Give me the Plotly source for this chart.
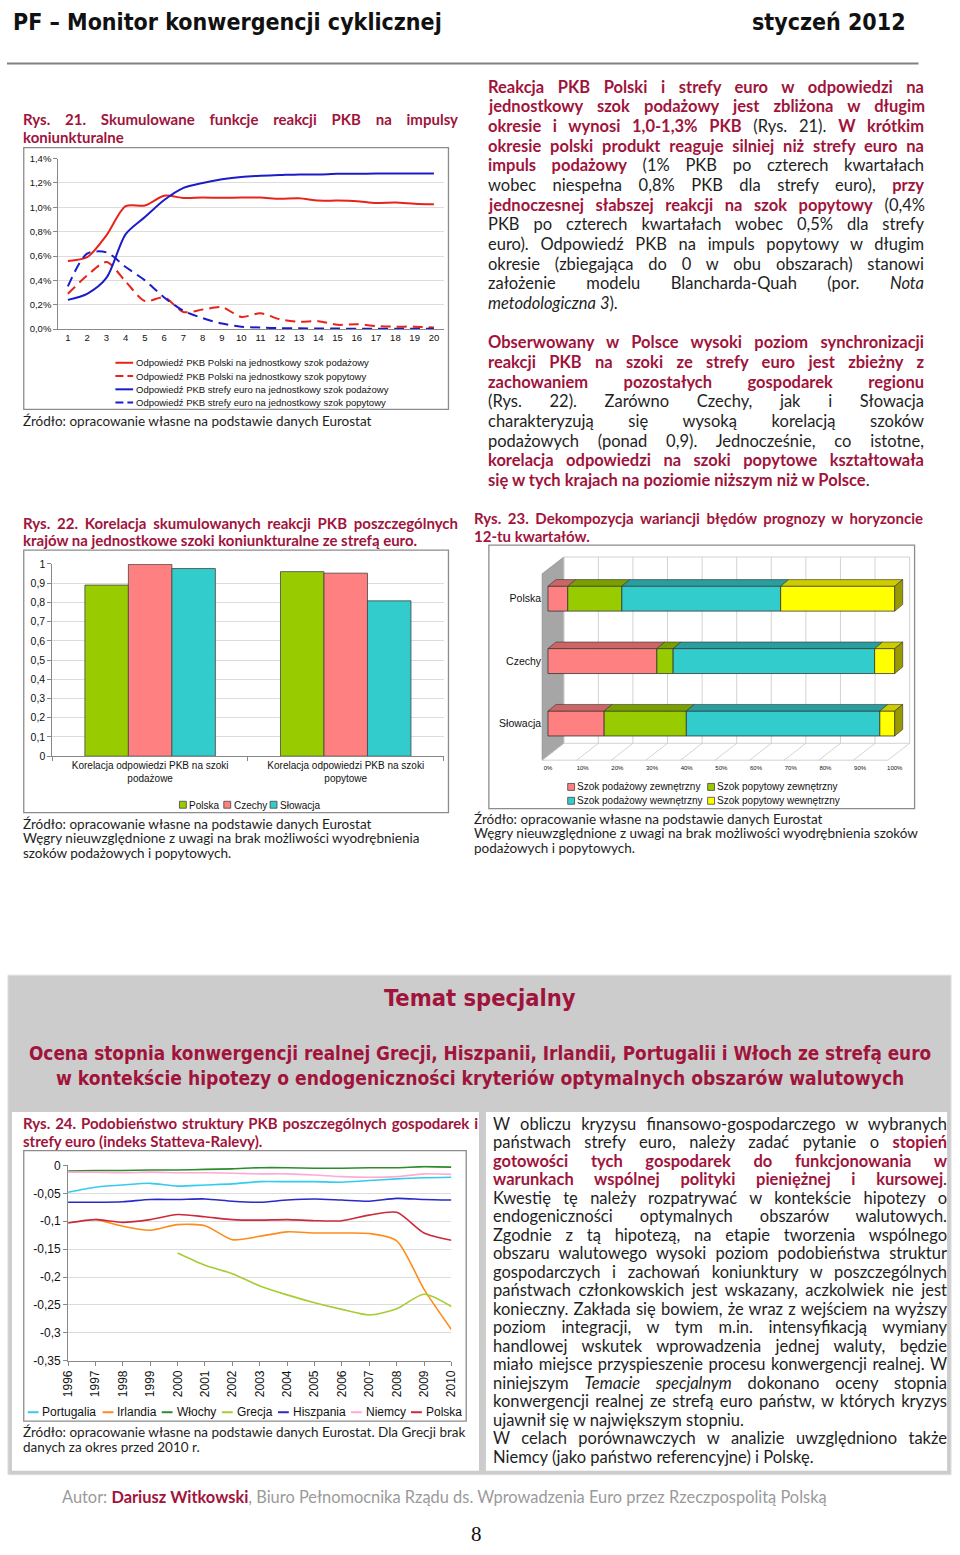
import json
import plotly.graph_objects as go

W, H = 960, 1555


def px(x):
    return x / W


def py(y):
    return 1 - y / H


RED = "#a0143c"
DARK = "#1e1e1e"
BODY = "Lato, DejaVu Sans, sans-serif"
CHART = "Liberation Sans, Arial, sans-serif"
HEAD = "Liberation Sans Narrow, DejaVu Sans Condensed, sans-serif"

# ---------------- DATA ----------------
# Rys. 21 - cumulative impulse responses (% of GDP)
quarters = list(range(1, 21))
pl_supply = [0.56, 0.59, 0.77, 1.01, 1.015, 1.095, 1.077, 1.08, 1.078, 1.08,
             1.08, 1.07, 1.075, 1.055, 1.055, 1.05, 1.035, 1.04, 1.03, 1.025]
pl_demand = [0.29, 0.44, 0.55, 0.39, 0.23, 0.26, 0.14, 0.16, 0.18, 0.10,
             0.13, 0.08, 0.06, 0.065, 0.035, 0.04, 0.025, 0.02, 0.02, 0.012]
ez_supply = [0.24, 0.29, 0.42, 0.78, 0.92, 1.06, 1.16, 1.20, 1.23, 1.25,
             1.26, 1.265, 1.27, 1.27, 1.275, 1.275, 1.278, 1.278, 1.278, 1.278]
ez_demand = [0.35, 0.62, 0.63, 0.51, 0.40, 0.26, 0.15, 0.09, 0.045, 0.02,
             0.012, 0.008, 0.006, 0.005, 0.004, 0.003, 0.003, 0.002, 0.002, 0.002]
names21 = ["Odpowiedź PKB Polski na jednostkowy szok podażowy",
           "Odpowiedź PKB Polski na jednostkowy szok popytowy",
           "Odpowiedź PKB strefy euro na jednostkowy szok podażowy",
           "Odpowiedź PKB strefy euro na jednostkowy szok popytowy"]

# Rys. 22 - correlations
groups22 = ["Korelacja odpowiedzi PKB na szoki<br>podażowe",
            "Korelacja odpowiedzi PKB na szoki<br>popytowe"]
countries22 = ["Polska", "Czechy", "Słowacja"]
polska22 = [0.89, 0.96]
czechy22 = [0.998, 0.952]
slowacja22 = [0.976, 0.808]

# Rys. 23 - variance decomposition (%)
countries23 = ["Polska", "Czechy", "Słowacja"]
names23 = ["Szok podażowy zewnętrzny", "Szok popytowy zewnętrzny",
           "Szok podażowy wewnętrzny", "Szok popytowy wewnętrzny"]
supply_ext = [5.7, 31.4, 16.2]
demand_ext = [15.6, 4.7, 23.7]
supply_int = [45.8, 58.1, 55.8]
demand_int = [32.9, 5.8, 4.3]
ticks23 = [0, 10, 20, 30, 40, 50, 60, 70, 80, 90, 100]
ticklabels23 = ["0%", "10%", "20%", "30%", "40%", "50%", "60%", "70%", "80%", "90%", "100%"]

# Rys. 24 - Statteva-Raleva index
years = list(range(1996, 2011))
portugalia = [-0.048, -0.039, -0.035, -0.032, -0.037, -0.035, -0.033, -0.029,
              -0.029, -0.029, -0.030, -0.027, -0.024, -0.022, -0.021]
irlandia = [None, -0.096, -0.109, -0.116, -0.106, -0.108, -0.133, -0.127,
            -0.119, -0.121, -0.121, -0.122, -0.135, -0.222, -0.294]
wlochy = [-0.010, -0.009, -0.009, -0.008, -0.008, -0.007, -0.006, -0.004,
          -0.004, -0.005, -0.005, -0.004, -0.004, -0.002, -0.003]
grecja = [None, None, None, None, -0.157, -0.179, -0.194, -0.216,
          -0.232, -0.246, -0.258, -0.268, -0.257, -0.231, -0.253]
hiszpania = [-0.066, -0.066, -0.065, -0.061, -0.061, -0.060, -0.064, -0.066,
             -0.062, -0.060, -0.062, -0.064, -0.059, -0.061, -0.062]
niemcy = [-0.012, -0.012, -0.013, -0.012, -0.013, -0.013, -0.014, -0.015,
          -0.015, -0.017, -0.020, -0.021, -0.020, -0.015, -0.016]
polska24 = [-0.103, -0.097, -0.102, -0.097, -0.088, -0.092, -0.097, -0.098,
            -0.097, -0.099, -0.099, -0.089, -0.084, -0.121, -0.134]
names24 = ["Portugalia", "Irlandia", "Włochy", "Grecja", "Hiszpania", "Niemcy", "Polska"]
yticks24 = [0, -0.05, -0.1, -0.15, -0.2, -0.25, -0.3, -0.35]
yticklabels24 = ["0", "-0,05", "-0,1", "-0,15", "-0,2", "-0,25", "-0,3", "-0,35"]

# ---------------- FIGURE ----------------
fig = go.Figure()
shapes = []
annotations = []
justify = []  # (annotation index, target width in px)


def txt(x, y, s, size, color=DARK, family=BODY, xanchor="left", yanchor="middle", jw=None):
    annotations.append(dict(
        x=px(x), y=py(y), xref="paper", yref="paper", text=s, showarrow=False,
        xanchor=xanchor, yanchor=yanchor, align="left" if xanchor == "left" else xanchor,
        font=dict(size=size, color=color, family=family), borderpad=0))
    if jw:
        justify.append([len(annotations) - 1, jw])


def rect(x0, y0, x1, y1, fill=None, line=None, lw=1, layer="below"):
    shapes.append(dict(type="rect", xref="paper", yref="paper",
                       x0=px(x0), x1=px(x1), y0=py(y1), y1=py(y0),
                       fillcolor=fill if fill else "rgba(0,0,0,0)",
                       line=dict(color=line if line else "rgba(0,0,0,0)", width=lw if line else 0),
                       layer=layer))


def hline(x0, y0, x1, y1, color, width=1, dash="solid", layer="above"):
    shapes.append(dict(type="line", xref="paper", yref="paper",
                       x0=px(x0), x1=px(x1), y0=py(y0), y1=py(y1),
                       line=dict(color=color, width=width, dash=dash), layer=layer))


def R(s):
    return f"<b><span style='color:{RED}'>{s}</span></b>"


# background blocks
hline(0, 57, 925, 57, "#808080", 2)
rect(1, 977, 958, 1481, fill="#cccccc", line="#dddddd", lw=1)
rect(5, 1115, 479, 1477, fill="white")
rect(486, 1115, 954, 1477, fill="white")
for box in [(17, 142, 448, 406), (17, 548, 448, 813), (489, 543, 921, 809), (17, 1154, 466, 1427)]:
    rect(*box, line="#8c8c8c", lw=1.3)

# ---- Rys. 21 ----
styles21 = [("#e8231a", "solid", pl_supply), ("#e8231a", "dash", pl_demand),
            ("#1c1cc8", "solid", ez_supply), ("#1c1cc8", "dash", ez_demand)]
for name, (col, dash, vals) in zip(names21, styles21):
    fig.add_trace(go.Scatter(x=quarters, y=vals, mode="lines", name=name,
                             line=dict(color=col, width=2, dash="10px,6px" if dash == "dash" else "solid",
                                       shape="spline", smoothing=0.8),
                             xaxis="x", yaxis="y", showlegend=False))
for i, (name, (col, dash, _)) in enumerate(zip(names21, styles21)):
    yy = 359 + 13.4 * i
    hline(110, yy, 128, yy, col, 2, "solid" if dash == "solid" else "8px,4px")
    txt(130, yy, name, 9.5, "#111", CHART)

# ---- Rys. 22 ----
colors22 = ["#99cc00", "#ff8080", "#33cccc"]
for name, vals, col in zip(countries22, [polska22, czechy22, slowacja22], colors22):
    fig.add_trace(go.Bar(x=groups22, y=vals, name=name, marker=dict(color=col, line=dict(color="#444", width=0.8)),
                         xaxis="x2", yaxis="y2", showlegend=False))
leg22_x = [175, 220, 267]
for name, col, lx in zip(countries22, colors22, leg22_x):
    rect(lx, 801.5, lx + 7, 808.5, fill=col, line="#444", lw=0.8, layer="above")
    txt(lx + 9, 805.5, name, 10, "#111", CHART)

# ---- Rys. 23 (pseudo 3D stacked bars) ----
colors23 = ["#ff8080", "#99cc00", "#33cccc", "#ffff00"]
tops23 = ["#cc6666", "#7a9f00", "#2a9e9e", "#cccc00"]
DX, DY, HW = 2.3, 0.105, 0.2
ypos23 = [len(countries23) - 1 - i for i in range(len(countries23))]

shapes.append(dict(type="path", xref="paper", yref="paper",
                   path=f"M {px(543)},{py(760)} L {px(543)},{py(572)} L {px(565)},{py(555)} L {px(565)},{py(743)} Z",
                   fillcolor="#a6a6a6", line=dict(color="#888", width=0.6), layer="below"))
for k in range(11):
    xb = 565 + 35.1 * k
    hline(xb, 555, xb, 743, "#c8c8c8", 0.8, layer="below")
    hline(xb, 743, xb - 22, 760, "#c8c8c8", 0.8, layer="below")
hline(565, 555, 916, 555, "#c8c8c8", 0.8, layer="below")
hline(565, 743, 916, 743, "#c8c8c8", 0.8, layer="below")
hline(543, 760, 894, 760, "#c8c8c8", 0.8, layer="below")

cum = [0.0] * len(countries23)
for name, vals, col, top in zip(names23, [supply_ext, demand_ext, supply_int, demand_int], colors23, tops23):
    fig.add_trace(go.Bar(x=vals, y=ypos23, base=list(cum), orientation="h", width=2 * HW, offset=-HW,
                         offsetgroup="s23", name=name,
                         marker=dict(color=col, line=dict(color="#333", width=0.8)),
                         xaxis="x3", yaxis="y3", showlegend=False))
    xs, ys = [], []
    for yv, b, v in zip(ypos23, cum, vals):
        xs += [b, b + v, b + v + DX, b + DX, b, None]
        ys += [yv + HW, yv + HW, yv + HW + DY, yv + HW + DY, yv + HW, None]
    fig.add_trace(go.Scatter(x=xs, y=ys, mode="lines", fill="toself", fillcolor=top,
                             line=dict(color="#333", width=0.6), xaxis="x3", yaxis="y3",
                             showlegend=False, hoverinfo="skip"))
    cum = [c + v for c, v in zip(cum, vals)]
xs, ys = [], []
for yv, c in zip(ypos23, cum):
    xs += [c, c + DX, c + DX, c, c, None]
    ys += [yv - HW, yv - HW + DY, yv + HW + DY, yv + HW, yv - HW, None]
fig.add_trace(go.Scatter(x=xs, y=ys, mode="lines", fill="toself", fillcolor="#999900",
                         line=dict(color="#333", width=0.6), xaxis="x3", yaxis="y3",
                         showlegend=False, hoverinfo="skip"))
leg23 = [(569, 787), (711, 787), (569, 801), (711, 801)]
for idx, (lx, ly) in enumerate(leg23):
    rect(lx, ly - 3.5, lx + 7, ly + 3.5, fill=colors23[idx], line="#444", lw=0.8, layer="above")
    txt(lx + 8, ly, names23[idx], 10, "#111", CHART)

# ---- Rys. 24 ----
colors24 = ["#33ccee", "#ff8c1a", "#2e8b2e", "#a6cc33", "#2a2ac8", "#ffaad4", "#cc2a3a"]
for name, vals, col in zip(names24, [portugalia, irlandia, wlochy, grecja, hiszpania, niemcy, polska24], colors24):
    fig.add_trace(go.Scatter(x=years, y=vals, mode="lines", name=name,
                             line=dict(color=col, width=1.6, shape="spline", smoothing=0.7),
                             xaxis="x4", yaxis="y4", showlegend=False))
leg24_x = [21, 97, 157, 218, 275, 349, 410]
for name, col, lx in zip(names24, colors24, leg24_x):
    hline(lx, 1418, lx + 11, 1418, col, 2)
    txt(lx + 14, 1418, name, 12, "#111", CHART)

# ---------------- TEXT ----------------
txt(5, 15, "<b>PF – Monitor konwergencji cyklicznej</b>", 23, "#111", HEAD)
txt(913, 15, "<b>styczeń 2012</b>", 23, "#111", HEAD, xanchor="right")

TS = 15
SS = 13.5
txt(15, 113, R("Rys. 21. Skumulowane funkcje reakcji PKB na impulsy"), TS, jw=435)
txt(15, 131, R("koniunkturalne"), TS)
txt(15, 418, "Źródło: opracowanie własne na podstawie danych Eurostat", SS)

txt(15, 521, R("Rys. 22. Korelacja skumulowanych reakcji PKB poszczególnych"), TS, jw=435)
txt(15, 538, R("krajów na jednostkowe szoki koniunkturalne ze strefą euro."), TS)
for i, s in enumerate(["Źródło: opracowanie własne na podstawie danych Eurostat",
                       "Węgry nieuwzględnione z uwagi na brak możliwości wyodrębnienia",
                       "szoków podażowych i popytowych."]):
    txt(15, 824 + 15 * i, s, SS)

txt(473, 516, R("Rys. 23. Dekompozycja wariancji błędów prognozy w horyzoncie"), TS, jw=449)
txt(473, 534, R("12-tu kwartałów."), TS)
for i, s in enumerate(["Źródło: opracowanie własne na podstawie danych Eurostat",
                       "Węgry nieuwzględnione z uwagi na brak możliwości wyodrębnienia szoków",
                       "podażowych i popytowych."]):
    txt(473, 819 + 15 * i, s, SS)

txt(15, 1126.5, R("Rys. 24. Podobieństwo struktury PKB poszczególnych gospodarek i"), TS, jw=455)
txt(15, 1144, R("strefy euro (indeks Statteva-Ralevy)."), TS)
txt(15, 1438, "Źródło: opracowanie własne na podstawie danych Eurostat. Dla Grecji brak", SS)
txt(15, 1453, "danych za okres przed 2010 r.", SS)

BS = 16.5
P1 = [
    R("Reakcja PKB Polski i strefy euro w odpowiedzi na"),
    R("jednostkowy szok podażowy jest zbliżona w długim"),
    R("okresie i wynosi 1,0-1,3% PKB") + " (Rys. 21). " + R("W krótkim"),
    R("okresie polski produkt reaguje silniej niż strefy euro na"),
    R("impuls podażowy") + " (1% PKB po czterech kwartałach",
    "wobec niespełna 0,8% PKB dla strefy euro), " + R("przy"),
    R("jednoczesnej słabszej reakcji na szok popytowy") + " (0,4%",
    "PKB po czterech kwartałach wobec 0,5% dla strefy",
    "euro). Odpowiedź PKB na impuls popytowy w długim",
    "okresie (zbiegająca do 0 w obu obszarach) stanowi",
    "założenie modelu Blancharda-Quah (por. <i>Nota</i>",
    "<i>metodologiczna 3</i>).",
]
P2 = [
    R("Obserwowany w Polsce wysoki poziom synchronizacji"),
    R("reakcji PKB na szoki ze strefy euro jest zbieżny z"),
    R("zachowaniem pozostałych gospodarek regionu"),
    "(Rys. 22). Zarówno Czechy, jak i Słowacja",
    "charakteryzują się wysoką korelacją szoków",
    "podażowych (ponad 0,9). Jednocześnie, co istotne,",
    R("korelacja odpowiedzi na szoki popytowe kształtowała"),
    R("się w tych krajach na poziomie niższym niż w Polsce") + ".",
]
for i, s in enumerate(P1):
    txt(487, 80.5 + 19.85 * i, s, BS, jw=436 if i < len(P1) - 1 else None)
for i, s in enumerate(P2):
    txt(487, 338.3 + 19.85 * i, s, BS, jw=436 if i < len(P2) - 1 else None)

txt(480, 1000, "<b>Temat specjalny</b>", 23.5, RED, HEAD, xanchor="center")
txt(480, 1056, "<b>Ocena stopnia konwergencji realnej Grecji, Hiszpanii, Irlandii, Portugalii i Włoch ze strefą euro</b>",
    18.8, RED, HEAD, xanchor="center")
txt(480, 1081, "<b>w kontekście hipotezy o endogeniczności kryteriów optymalnych obszarów walutowych</b>",
    19.1, RED, HEAD, xanchor="center")

P3 = [
    "W obliczu kryzysu finansowo-gospodarczego w wybranych",
    "państwach strefy euro, należy zadać pytanie o " + R("stopień"),
    R("gotowości tych gospodarek do funkcjonowania w"),
    R("warunkach wspólnej polityki pieniężnej i kursowej") + ".",
    "Kwestię tę należy rozpatrywać w kontekście hipotezy o",
    "endogeniczności optymalnych obszarów walutowych.",
    "Zgodnie z tą hipotezą, na etapie tworzenia wspólnego",
    "obszaru walutowego wysoki poziom podobieństwa struktur",
    "gospodarczych i zachowań koniunktury w poszczególnych",
    "państwach członkowskich jest wskazany, aczkolwiek nie jest",
    "konieczny. Zakłada się bowiem, że wraz z wejściem na wyższy",
    "poziom integracji, w tym m.in. intensyfikacją wymiany",
    "handlowej wskutek wprowadzenia jednej waluty, będzie",
    "miało miejsce przyspieszenie procesu konwergencji realnej. W",
    "niniejszym <i>Temacie specjalnym</i> dokonano oceny stopnia",
    "konwergencji realnej ze strefą euro państw, w których kryzys",
    "ujawnił się w największym stopniu.",
    "W celach porównawczych w analizie uwzględniono także",
    "Niemcy (jako państwo referencyjne) i Polskę.",
]
last3 = {16, 18}
for i, s in enumerate(P3):
    txt(492, 1127 + 18.67 * i, s, BS, jw=None if i in last3 else 454)

txt(444, 1503, "<span style='color:#9a9a9a'>Autor: </span>" + R("Dariusz Witkowski")
    + "<span style='color:#9a9a9a'>, Biuro Pełnomocnika Rządu ds. Wprowadzenia Euro przez Rzeczpospolitą Polską</span>",
    16.4, "#9a9a9a", BODY, xanchor="center")
txt(476, 1541, "8", 21, "#111", "Liberation Serif, serif", xanchor="center")

# ---------------- AXES ----------------
axis_font = dict(family=CHART, color="#111")


def tf(size):
    return dict(size=size, **axis_font)


fig.update_layout(
    width=W, height=H, margin=dict(l=0, r=0, t=0, b=0), autosize=False,
    paper_bgcolor="white", plot_bgcolor="rgba(0,0,0,0)",
    separators=", ", showlegend=False, barmode="group", bargap=0.333, bargroupgap=0,
    shapes=shapes, annotations=annotations,
    xaxis=dict(domain=[px(52), px(443)], range=[0.5, 20.5], tickvals=quarters, anchor="y",
               showline=True, linecolor="#888", showgrid=False, zeroline=False,
               tickfont=tf(9.5), ticks=""),
    yaxis=dict(domain=[py(325), py(153)], range=[0, 1.4], dtick=0.2, tickformat=".1f", ticksuffix="%",
               anchor="x", showline=True, linecolor="#888", gridcolor="#dcdcdc", zeroline=False,
               ticks="outside", ticklen=4, tickcolor="#888", tickfont=tf(9.5)),
    xaxis2=dict(domain=[px(46), px(443)], anchor="y2", showline=True, linecolor="#888",
                ticks="outside", tickson="boundaries", ticklen=4, tickcolor="#888",
                tickfont=tf(10)),
    yaxis2=dict(domain=[py(756), py(562)], range=[0, 1], dtick=0.1, anchor="x2", showline=True,
                linecolor="#888", gridcolor="#dcdcdc", zeroline=False, ticks="outside", ticklen=4,
                tickcolor="#888", tickfont=tf(10.5)),
    xaxis3=dict(domain=[px(543), px(916)], range=[-1.7, 104.3], tickvals=ticks23, ticktext=ticklabels23,
                anchor="y3", showgrid=False, zeroline=False, showline=False, ticks="",
                tickfont=tf(6)),
    yaxis3=dict(domain=[py(763), py(555)], range=[-0.635, 2.667], tickvals=ypos23, ticktext=countries23,
                anchor="x3", showgrid=False, zeroline=False, showline=False, ticks="",
                tickfont=tf(10.5)),
    xaxis4=dict(domain=[px(62), px(451)], range=[1996, 2010], tickvals=years, tickangle=-90,
                anchor="y4", showline=True, linecolor="#888", showgrid=False, zeroline=False,
                ticks="outside", ticklen=4, tickcolor="#888", tickfont=tf(12)),
    yaxis4=dict(domain=[py(1366), py(1169)], range=[-0.35, 0], tickvals=yticks24, ticktext=yticklabels24,
                anchor="x4", showline=True, linecolor="#888", gridcolor="#dcdcdc", zeroline=False,
                ticks="outside", ticklen=4, tickcolor="#888", tickfont=tf(12)),
)

# page-level styling: no page margin, justified paragraph lines
post_js = """
document.documentElement.style.margin = '0px';
document.documentElement.style.overflow = 'hidden';
document.body.style.margin = '0px';
document.body.style.overflow = 'hidden';
var gd = document.getElementById('{plot_id}');
var J = JUSTIFY;
J.forEach(function(p) {
  var g = gd.querySelector('g.annotation[data-index="' + p[0] + '"]');
  if (!g) return;
  var t = g.querySelector('text.annotation-text');
  if (!t) return;
  t.style.wordSpacing = '0px';
  var w = t.getComputedTextLength();
  var n = (t.textContent.match(/ /g) || []).length;
  if (n > 0 && w < p[1]) { t.style.wordSpacing = ((p[1] - w) / n) + 'px'; }
});
""".replace("JUSTIFY", json.dumps(justify))

fig.write_html("out.html", post_script=post_js,
               config={"displayModeBar": False, "responsive": False})
